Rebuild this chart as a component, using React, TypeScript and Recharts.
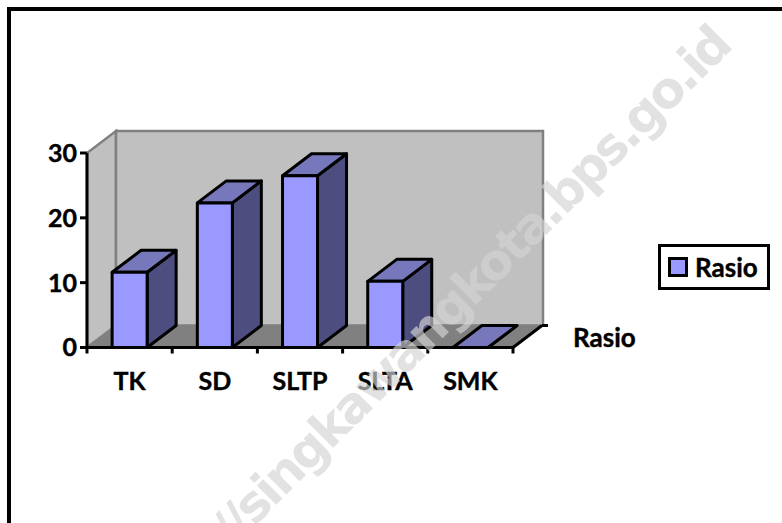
import { BarChart, Bar, XAxis, YAxis, ReferenceArea, Legend } from "recharts";

const categories = ["TK", "SD", "SLTP", "SLTA", "SMK"];
const rasio = [11.6, 22.3, 26.5, 10.2, 0];
const yTicks = [0, 10, 20, 30];
const seriesName = "Rasio";
const watermark = "http://singkawangkota.bps.go.id";

const chartData = categories.map((name, i) => ({ name, [seriesName]: rasio[i] }));

const FONT = "Lato, sans-serif";
const DX = 29;
const DY = 22;
const PLOT_W = 426;
const LINE = 3;

// side wall, back wall and floor of the 3d box
const Walls = ({ x, y, width, height }: any) => {
  const bottom = y + height;
  const right = x + width;
  return (
    <g>
      <polygon
        points={`${x},${bottom} ${x},${y} ${x + DX},${y - DY} ${x + DX},${bottom - DY}`}
        fill="#c0c0c0"
        stroke="#808080"
        strokeWidth={2.5}
      />
      <rect x={x + DX} y={y - DY} width={width + 1} height={height} fill="#c0c0c0" stroke="#808080" strokeWidth={2.5} />
      <polygon
        points={`${x},${bottom} ${x + DX},${bottom - DY} ${right + DX},${bottom - DY} ${right},${bottom}`}
        fill="#808080"
      />
      <line x1={right} y1={bottom} x2={right + DX} y2={bottom - DY} stroke="#000" strokeWidth={LINE} />
      <line x1={right + DX} y1={bottom - DY} x2={right + DX + 6} y2={bottom - DY} stroke="#000" strokeWidth={LINE} />
      <text x={right + 60} y={bottom - 1} fontFamily={FONT} fontWeight={700} fontSize={26} fill="#000" stroke="#000" strokeWidth={0.4}>
        {seriesName}
      </text>
    </g>
  );
};

const Bar3D = ({ x, y, width, height }: any) => {
  const b = y + height;
  return (
    <g stroke="#000" strokeWidth={LINE} strokeLinejoin="round">
      <polygon
        points={`${x + width},${y} ${x + width + DX},${y - DY} ${x + width + DX},${b - DY} ${x + width},${b}`}
        fill="#4d4d80"
      />
      <polygon
        points={`${x},${y} ${x + DX},${y - DY} ${x + width + DX},${y - DY} ${x + width},${y}`}
        fill="#7777bb"
      />
      <rect x={x} y={y} width={width} height={height} fill="#9999ff" />
    </g>
  );
};

// ticks sit on the category borders, labels in the middle
const CategoryTick = ({ x, y, index, payload }: any) => {
  const band = PLOT_W / categories.length;
  return (
    <g>
      <line x1={x - band / 2} y1={y - 8} x2={x - band / 2} y2={y - 2} stroke="#000" strokeWidth={LINE} />
      {index === categories.length - 1 && (
        <line x1={x + band / 2} y1={y - 8} x2={x + band / 2} y2={y - 2} stroke="#000" strokeWidth={LINE} />
      )}
      <text x={x} y={y + 34} textAnchor="middle" fontFamily={FONT} fontWeight={700} fontSize={25} fill="#000" stroke="#000" strokeWidth={0.4}>
        {payload.value}
      </text>
    </g>
  );
};

const RasioLegend = () => (
  <div
    style={{
      boxSizing: "border-box",
      width: 112,
      height: 46,
      border: "3px solid #000",
      display: "flex",
      alignItems: "center",
      background: "#fff",
      fontFamily: FONT,
      fontWeight: 700,
      fontSize: 26,
      color: "#000",
      WebkitTextStroke: "0.4px #000",
    }}
  >
    <span
      style={{
        boxSizing: "border-box",
        width: 20,
        height: 20,
        marginLeft: 7,
        marginRight: 7,
        background: "#9999ff",
        border: "3px solid #000",
      }}
    />
    {seriesName}
  </div>
);

export default function App() {
  return (
    <div style={{ position: "absolute", left: 0, top: 0, width: 782, height: 523, overflow: "hidden", background: "#fff" }}>
      <BarChart
        width={782}
        height={523}
        data={chartData}
        margin={{ top: 153, right: 269, bottom: 89.5, left: 0 }}
        barCategoryGap="29.5%"
      >
        <ReferenceArea y1={0} y2={30} shape={Walls} ifOverflow="visible" />
        <XAxis
          dataKey="name"
          height={40}
          interval={0}
          tickLine={false}
          tick={CategoryTick}
          axisLine={{ stroke: "#000", strokeWidth: LINE }}
        />
        <YAxis
          width={87}
          domain={[0, 30]}
          ticks={yTicks}
          tickSize={7}
          tickMargin={3}
          axisLine={{ stroke: "#000", strokeWidth: LINE }}
          tickLine={{ stroke: "#000", strokeWidth: LINE }}
          tick={{ fontFamily: FONT, fontWeight: 700, fontSize: 25, fill: "#000", stroke: "#000", strokeWidth: 0.4 }}
        />
        <Legend
          content={RasioLegend}
          layout="vertical"
          wrapperStyle={{ left: 658, top: 244, width: 112 }}
        />
        <Bar dataKey={seriesName} shape={Bar3D} isAnimationActive={false} />
      </BarChart>
      {/* outer frame, cut by the right and bottom edge of the picture */}
      <div
        style={{
          position: "absolute",
          left: 7,
          top: 7,
          right: 0,
          bottom: 0,
          borderLeft: "4px solid #000",
          borderTop: "4px solid #000",
        }}
      />
      {/* site watermark */}
      <svg width={782} height={523} style={{ position: "absolute", left: 0, top: 0 }}>
        <text
          transform="translate(733,48) rotate(-45)"
          textAnchor="end"
          fontFamily="'DejaVu Sans', sans-serif"
          fontWeight={700}
          fontSize={50}
          letterSpacing={-2.7}
          fill="#d4d4d4"
          opacity={0.66}
        >
          {watermark}
        </text>
      </svg>
    </div>
  );
}
